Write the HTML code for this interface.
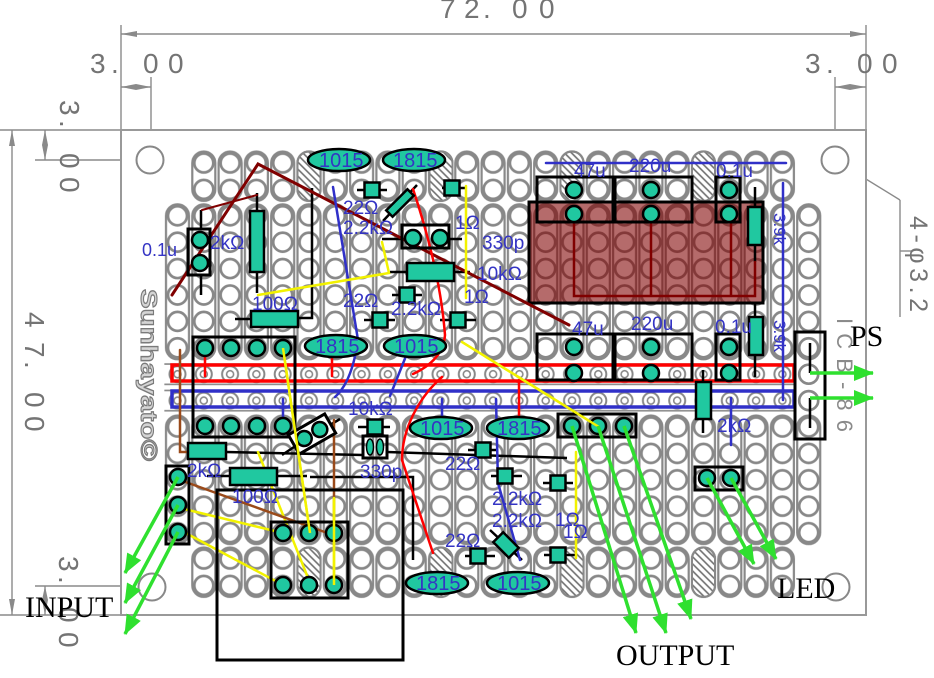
<!DOCTYPE html>
<html><head><meta charset="utf-8">
<style>
html,body{margin:0;padding:0;background:#fff;}
svg{display:block;}
text{font-family:"Liberation Sans",sans-serif;}
.b{fill:#3434c4;font-size:20px;}
.s{fill:#3434c4;font-size:19px;}
.dm{fill:#747474;font-size:28px;}
.t{fill:#20c8a0;stroke:#000;stroke-width:2.5;}
.k{stroke:#000;stroke-width:2.5;fill:none;}
.bx{fill:none;stroke:#000;stroke-width:3;}
.g{stroke:#8a8a8a;stroke-width:1.4;fill:none;}
.ga{stroke:#2fe02f;stroke-width:3.5;fill:none;marker-end:url(#ah);}
.serif{font-family:"Liberation Serif",serif;font-size:30px;fill:#000;}
</style></head><body>
<svg width="934" height="678" viewBox="0 0 934 678" xmlns="http://www.w3.org/2000/svg">
<defs>
<pattern id="pA" patternUnits="userSpaceOnUse" x="164.35" y="149.8" width="26.3" height="52.8">
 <rect x="1.65" y="1.7" width="23" height="49.4" rx="11.5" fill="none" stroke="#888" stroke-width="2.2"/>
 <circle cx="13.15" cy="13.2" r="9.5" fill="none" stroke="#888" stroke-width="2.7"/>
 <circle cx="13.15" cy="39.6" r="9.5" fill="none" stroke="#888" stroke-width="2.7"/>
</pattern>
<pattern id="pD" patternUnits="userSpaceOnUse" x="164.35" y="545.8" width="26.3" height="52.8">
 <rect x="1.65" y="1.7" width="23" height="49.4" rx="11.5" fill="none" stroke="#888" stroke-width="2.2"/>
 <circle cx="13.15" cy="13.2" r="9.5" fill="none" stroke="#888" stroke-width="2.7"/>
 <circle cx="13.15" cy="39.6" r="9.5" fill="none" stroke="#888" stroke-width="2.7"/>
</pattern>
<pattern id="pB" patternUnits="userSpaceOnUse" x="164.35" y="202.6" width="26.3" height="158.4">
 <rect x="1.65" y="1.7" width="23" height="155" rx="11.5" fill="none" stroke="#888" stroke-width="2.2"/>
 <circle cx="13.15" cy="13.2" r="9.5" fill="none" stroke="#888" stroke-width="2.7"/>
 <circle cx="13.15" cy="39.6" r="9.5" fill="none" stroke="#888" stroke-width="2.7"/>
 <circle cx="13.15" cy="66" r="9.5" fill="none" stroke="#888" stroke-width="2.7"/>
 <circle cx="13.15" cy="92.4" r="9.5" fill="none" stroke="#888" stroke-width="2.7"/>
 <circle cx="13.15" cy="118.8" r="9.5" fill="none" stroke="#888" stroke-width="2.7"/>
 <circle cx="13.15" cy="145.2" r="9.5" fill="none" stroke="#888" stroke-width="2.7"/>
</pattern>
<pattern id="pC" patternUnits="userSpaceOnUse" x="164.35" y="413.8" width="26.3" height="132">
 <rect x="1.65" y="1.7" width="23" height="128.6" rx="11.5" fill="none" stroke="#888" stroke-width="2.2"/>
 <circle cx="13.15" cy="13.2" r="9.5" fill="none" stroke="#888" stroke-width="2.7"/>
 <circle cx="13.15" cy="39.6" r="9.5" fill="none" stroke="#888" stroke-width="2.7"/>
 <circle cx="13.15" cy="66" r="9.5" fill="none" stroke="#888" stroke-width="2.7"/>
 <circle cx="13.15" cy="92.4" r="9.5" fill="none" stroke="#888" stroke-width="2.7"/>
 <circle cx="13.15" cy="118.8" r="9.5" fill="none" stroke="#888" stroke-width="2.7"/>
</pattern>
<pattern id="pBus" patternUnits="userSpaceOnUse" x="164.35" y="361" width="26.3" height="26.4">
 <circle cx="13.15" cy="13.2" r="8" fill="none" stroke="#888" stroke-width="2"/>
 <circle cx="13.15" cy="13.2" r="3.5" fill="none" stroke="#888" stroke-width="1.6"/>
 <line x1="0" y1="3" x2="26.3" y2="3" stroke="#888" stroke-width="1.6"/>
 <line x1="0" y1="23.4" x2="26.3" y2="23.4" stroke="#888" stroke-width="1.6"/>
</pattern>
<pattern id="hat" patternUnits="userSpaceOnUse" width="5" height="5" patternTransform="rotate(-45)">
 <line x1="1" y1="0" x2="1" y2="5" stroke="#6e6e6e" stroke-width="1.6"/>
</pattern>
<marker id="ah" viewBox="0 0 20 16" refX="19" refY="8" markerWidth="20" markerHeight="16" orient="auto" markerUnits="userSpaceOnUse">
 <path d="M0,0 L20,8 L0,16 z" fill="#2fe02f"/>
</marker>
</defs>

<!-- dimension lines -->
<g class="g">
 <line x1="121" y1="25" x2="121" y2="615"/>
 <line x1="866" y1="25" x2="866" y2="615"/>
 <line x1="121" y1="34" x2="866" y2="34"/>
 <line x1="151" y1="77" x2="151" y2="147"/>
 <line x1="835" y1="77" x2="835" y2="146"/>
 <line x1="121" y1="87" x2="151" y2="87"/>
 <line x1="835" y1="87" x2="866" y2="87"/>
 <line x1="0" y1="130" x2="866" y2="130"/>
 <line x1="35" y1="160" x2="137" y2="160"/>
 <line x1="45" y1="130" x2="45" y2="160"/>
 <line x1="12" y1="130" x2="12" y2="615"/>
 <line x1="0" y1="615" x2="866" y2="615"/>
 <line x1="35" y1="586" x2="139" y2="586"/>
 <line x1="45" y1="586" x2="45" y2="615"/>
 <line x1="848" y1="168" x2="900" y2="200"/>
 <line x1="900" y1="200" x2="900" y2="317"/>
 <line x1="900" y1="251" x2="912" y2="251"/>
</g>
<g fill="#8a8a8a">
 <polygon points="121,34 137,31 137,37"/>
 <polygon points="866,34 850,31 850,37"/>
 <polygon points="121,87 136,84 151,87 136,90"/>
 <polygon points="835,87 850,84 866,87 850,90"/>
 <polygon points="45,130 42,145 45,160 48,145"/>
 <polygon points="45,586 42,600 45,615 48,600"/>
 <polygon points="12,130 9,146 15,146"/>
 <polygon points="12,615 9,599 15,599"/>
 <polygon points="848,168 861,172 858,177"/>
</g>
<text class="dm"><tspan x="440" y="18">7</tspan><tspan x="464" y="18">2</tspan><tspan x="483" y="18">.</tspan><tspan x="512" y="18">0</tspan><tspan x="539" y="18">0</tspan></text>
<text class="dm"><tspan x="90" y="73">3</tspan><tspan x="111" y="73">.</tspan><tspan x="143" y="73">0</tspan><tspan x="168" y="73">0</tspan></text>
<text class="dm"><tspan x="805" y="73">3</tspan><tspan x="826" y="73">.</tspan><tspan x="857" y="73">0</tspan><tspan x="882" y="73">0</tspan></text>
<text class="dm" transform="translate(60,0) rotate(90)"><tspan x="100" y="0">3</tspan><tspan x="120" y="0">.</tspan><tspan x="153" y="0">0</tspan><tspan x="177" y="0">0</tspan></text>
<text class="dm" transform="translate(25,0) rotate(90)"><tspan x="312" y="0">4</tspan><tspan x="342" y="0">7</tspan><tspan x="361" y="0">.</tspan><tspan x="392" y="0">0</tspan><tspan x="416" y="0">0</tspan></text>
<text class="dm" transform="translate(59,0) rotate(90)"><tspan x="556" y="0">3</tspan><tspan x="576" y="0">.</tspan><tspan x="607" y="0">0</tspan><tspan x="632" y="0">0</tspan></text>
<text transform="translate(910,0) rotate(90)" x="216" y="0" font-size="25" fill="#747474" textLength="96" lengthAdjust="spacing">4-φ3.2</text>

<!-- board -->
<rect x="121" y="130" width="745" height="485" fill="#fff" stroke="#999" stroke-width="2"/>
<circle cx="150" cy="160" r="13.5" fill="#fff" stroke="#888" stroke-width="2"/>
<circle cx="835" cy="160" r="13.5" fill="#fff" stroke="#888" stroke-width="2"/>
<circle cx="152" cy="587" r="13.5" fill="#fff" stroke="#888" stroke-width="2"/>
<circle cx="836" cy="587" r="13.5" fill="#fff" stroke="#888" stroke-width="2"/>

<!-- hole grid -->
<rect x="190.65" y="149.8" width="604.9" height="52.8" fill="url(#pA)"/>
<rect x="164.35" y="202.6" width="657.5" height="158.4" fill="url(#pB)"/>
<rect x="164.35" y="361" width="631.2" height="52.8" fill="url(#pBus)"/>
<circle cx="808.7" cy="374.2" r="9.5" fill="none" stroke="#888" stroke-width="2.7"/>
<circle cx="808.7" cy="400.6" r="9.5" fill="none" stroke="#888" stroke-width="2.7"/>
<rect x="164.35" y="413.8" width="657.5" height="132" fill="url(#pC)"/>
<rect x="190.65" y="545.8" width="604.9" height="52.8" fill="url(#pD)"/>

<!-- hatched cells -->
<g stroke="#888" stroke-width="2">
 <rect x="297.5" y="151.5" width="23" height="49.4" rx="11.5" fill="#fff"/>
 <rect x="297.5" y="151.5" width="23" height="49.4" rx="11.5" fill="url(#hat)"/>
 <rect x="429.5" y="151.5" width="23" height="49.4" rx="11.5" fill="#fff"/>
 <rect x="429.5" y="151.5" width="23" height="49.4" rx="11.5" fill="url(#hat)"/>
 <rect x="560.5" y="151.5" width="23" height="49.4" rx="11.5" fill="#fff"/>
 <rect x="560.5" y="151.5" width="23" height="49.4" rx="11.5" fill="url(#hat)"/>
 <rect x="692" y="151.5" width="23" height="49.4" rx="11.5" fill="#fff"/>
 <rect x="692" y="151.5" width="23" height="49.4" rx="11.5" fill="url(#hat)"/>
 <rect x="297.5" y="547.5" width="23" height="49.4" rx="11.5" fill="#fff"/>
 <rect x="297.5" y="547.5" width="23" height="49.4" rx="11.5" fill="url(#hat)"/>
 <rect x="429.5" y="547.5" width="23" height="49.4" rx="11.5" fill="#fff"/>
 <rect x="429.5" y="547.5" width="23" height="49.4" rx="11.5" fill="url(#hat)"/>
 <rect x="560.5" y="547.5" width="23" height="49.4" rx="11.5" fill="#fff"/>
 <rect x="560.5" y="547.5" width="23" height="49.4" rx="11.5" fill="url(#hat)"/>
 <rect x="692" y="547.5" width="23" height="49.4" rx="11.5" fill="#fff"/>
 <rect x="692" y="547.5" width="23" height="49.4" rx="11.5" fill="url(#hat)"/>
</g>

<!-- board texts -->
<text transform="translate(141,0) rotate(90)" x="289" y="0" font-size="23" font-weight="bold" fill="#d4d4d4" stroke="#7a7a7a" stroke-width="1.1" textLength="172" lengthAdjust="spacingAndGlyphs">Sunhayato©</text>
<text transform="translate(837,0) rotate(90)" x="318" y="0" font-size="22" fill="#8a8a8a" textLength="114" lengthAdjust="spacing">ICB-86</text>

<!-- hatched big rect -->
<rect x="529" y="202" width="234" height="101" fill="#800000" fill-opacity="0.58" stroke="#000" stroke-width="3"/>

<!-- buses -->
<rect x="172" y="365" width="622" height="16" fill="none" stroke="#f00" stroke-width="3.5"/>
<rect x="172" y="391" width="622" height="16" fill="none" stroke="#3030c8" stroke-width="3.5"/>

<!-- black leads / wires -->
<path class="k" d="M201,210V229M201,275V295M257,193V211M257,272V293M312,188V318H298M235,319H251M357,190H387M442,188H467M383,221L417,185M382,239H402M449,239H462M390,272H407M454,272H470M392,295H422M364,320H395M440,320H476M755,187V207M755,245V262M755,303V317M755,355V377M703,370V382M703,419V433M810,343V373M810,398V428M226,452L363,455M387,452L567,458M207,476H230M277,476H307M310,477H413V560M358,427H390M375,433V436M282,455L294,447M330,425L340,419M468,450H497M491,476H522M543,483H573M465,556H495M544,555H576M490,530L522,560"/>

<!-- colored wires -->
<g fill="none" stroke-linecap="round">
 <path d="M172,295L258,164L569,325" stroke="#800000" stroke-width="3"/>
 <path d="M202,210L257,195" stroke="#800000" stroke-width="2"/>
 <path d="M574,214V296H755V262M651,214V296M731,214V296" stroke="#800000" stroke-width="2.5"/>
 <path d="M413,189Q440,270 445,335Q443,360 413,374" stroke="#f00" stroke-width="2.5"/>
 <path d="M442,377C418,398 402,430 402,460L433,553" stroke="#f00" stroke-width="2.5"/>
 <path d="M205,348V376M332,346V376M519,380V427" stroke="#f00" stroke-width="2.5"/>
 <path d="M333,187L358,340Q352,382 335,397" stroke="#3030c8" stroke-width="2.5"/>
 <path d="M410,346L390,396M442,399V427M283,399V427M496,399L498,483L520,560M546,163H786M783,183V400M731,398V445" stroke="#3030c8" stroke-width="2.5"/>
 <path d="M258,295L389,273L382,242M466,186V298M283,348L310,533M258,452L310,583M180,508L283,533M180,530L283,585M462,342L599,427M576,452V558" stroke="#f2f200" stroke-width="2.5"/>
 <path d="M180,350V452H188M334,420V535M180,480L333,535" stroke="#9a4a1a" stroke-width="2.5"/>
 <path d="M334,498V585" stroke="#f2f200" stroke-width="2.5"/>
</g>

<!-- boxes -->
<g class="bx">
 <rect x="188" y="229" width="22" height="46"/>
 <rect x="402" y="225" width="47" height="23"/>
 <rect x="537" y="177" width="76" height="45"/>
 <rect x="615" y="177" width="77" height="45"/>
 <rect x="716" y="177" width="24" height="45"/>
 <rect x="537" y="334" width="76" height="46"/>
 <rect x="615" y="334" width="77" height="46"/>
 <rect x="716" y="334" width="24" height="46"/>
 <rect x="193" y="337" width="102" height="100"/>
 <rect x="166" y="466" width="23" height="78"/>
 <rect x="271" y="522" width="77" height="76"/>
 <rect x="217" y="490" width="186" height="170"/>
 <rect x="363" y="436" width="24" height="22"/>
 <rect x="558" y="414" width="78" height="23"/>
 <rect x="695" y="467" width="48" height="23"/>
 <rect x="795" y="332" width="30" height="107"/>
</g>

<!-- resistors -->
<g class="t">
 <rect x="250" y="211" width="14" height="61"/>
 <rect x="251" y="311" width="47" height="16"/>
 <rect x="407" y="263" width="47" height="18"/>
 <rect x="748" y="207" width="14" height="38"/>
 <rect x="749" y="317" width="14" height="38"/>
 <rect x="696" y="382" width="15" height="37"/>
 <rect x="188" y="443" width="38" height="16"/>
 <rect x="230" y="468" width="47" height="17"/>
 <!-- chips -->
 <rect x="364.5" y="182.5" width="15" height="15"/>
 <rect x="444.5" y="180.5" width="15" height="15"/>
 <rect x="399.5" y="287.5" width="15" height="15"/>
 <rect x="372.5" y="312.5" width="15" height="15"/>
 <rect x="450.5" y="312.5" width="15" height="15"/>
 <rect x="367.5" y="419.5" width="15" height="15"/>
 <rect x="475.5" y="442.5" width="15" height="15"/>
 <rect x="497.5" y="468.5" width="15" height="15"/>
 <rect x="550.5" y="475.5" width="15" height="15"/>
 <rect x="470.5" y="548.5" width="15" height="15"/>
 <rect x="550.5" y="547.5" width="15" height="15"/>
 <rect x="-15" y="-4.5" width="30" height="9" transform="translate(400,203) rotate(-45)"/>
 <rect x="-11" y="-7" width="22" height="14" transform="translate(506,545) rotate(45)"/>
 <!-- ellipses -->
 <ellipse cx="339" cy="160" rx="31" ry="11"/>
 <ellipse cx="414" cy="160" rx="31" ry="11"/>
 <ellipse cx="336" cy="346" rx="31" ry="11"/>
 <ellipse cx="415" cy="346" rx="31" ry="11"/>
 <ellipse cx="441" cy="428" rx="31" ry="11"/>
 <ellipse cx="518" cy="428" rx="31" ry="11"/>
 <ellipse cx="437" cy="583" rx="31" ry="11"/>
 <ellipse cx="518" cy="583" rx="31" ry="11"/>
 <!-- pins -->
 <circle cx="200" cy="240" r="8"/><circle cx="200" cy="263" r="8"/>
 <circle cx="413" cy="238" r="8"/><circle cx="440" cy="238" r="8"/>
 <circle cx="574" cy="190" r="8"/><circle cx="574" cy="214" r="8"/>
 <circle cx="651" cy="190" r="8"/><circle cx="651" cy="214" r="8"/>
 <circle cx="729" cy="190" r="8"/><circle cx="729" cy="214" r="8"/>
 <circle cx="574" cy="347" r="8"/><circle cx="574" cy="373" r="8"/>
 <circle cx="651" cy="347" r="8"/><circle cx="651" cy="373" r="8"/>
 <circle cx="729" cy="347" r="8"/><circle cx="729" cy="373" r="8"/>
 <circle cx="205" cy="348" r="8"/><circle cx="231" cy="348" r="8"/><circle cx="257" cy="348" r="8"/><circle cx="283" cy="348" r="8"/>
 <circle cx="205" cy="426" r="8"/><circle cx="231" cy="426" r="8"/><circle cx="257" cy="426" r="8"/><circle cx="283" cy="426" r="8"/>
 <circle cx="178" cy="477" r="8"/><circle cx="178" cy="505" r="8"/><circle cx="178" cy="532" r="8"/>
 <circle cx="283" cy="533" r="8"/><circle cx="309" cy="533" r="8"/><circle cx="334" cy="533" r="8"/>
 <circle cx="283" cy="585" r="8"/><circle cx="309" cy="585" r="8"/><circle cx="334" cy="585" r="8"/>
 <circle cx="572" cy="426" r="8"/><circle cx="598" cy="426" r="8"/><circle cx="624" cy="426" r="8"/>
 <circle cx="707" cy="478" r="8"/><circle cx="731" cy="478" r="8"/>
</g>
<g transform="translate(312,434) rotate(-30)">
 <rect x="-21" y="-11" width="42" height="22" fill="#fff" stroke="#000" stroke-width="3"/>
 <circle cx="-9" cy="0" r="7.5" class="t"/><circle cx="9" cy="0" r="7.5" class="t"/>
</g>
<ellipse cx="370" cy="447" rx="3.5" ry="8" fill="#20c8a0" stroke="#000" stroke-width="1.5"/>
<ellipse cx="380" cy="447" rx="3.5" ry="8" fill="#20c8a0" stroke="#000" stroke-width="1.5"/>

<!-- wires drawn over some parts -->
<path d="M462,342L599,427M334,498V585M283,348L310,533" stroke="#f2f200" stroke-width="2.5" fill="none"/>

<!-- blue labels -->
<g class="b">
 <text x="319" y="167">1015</text><text x="393" y="167">1815</text>
 <text x="315" y="353">1815</text><text x="394" y="353">1015</text>
 <text x="420" y="435">1015</text><text x="497" y="435">1815</text>
 <text x="416" y="590">1815</text><text x="497" y="590">1015</text>
</g>
<g class="s">
 <text x="142" y="256" font-size="18">0.1u</text>
 <text x="210" y="249">2kΩ</text>
 <text x="252" y="310">100Ω</text>
 <text x="343" y="214">22Ω</text>
 <text x="343" y="234">2.2kΩ</text>
 <text x="343" y="307">22Ω</text>
 <text x="391" y="315">2.2kΩ</text>
 <text x="455" y="229">1Ω</text>
 <text x="482" y="249">330p</text>
 <text x="477" y="280">10kΩ</text>
 <text x="464" y="303">1Ω</text>
 <text x="574" y="177">47u</text>
 <text x="629" y="172">220u</text>
 <text x="716" y="177">0.1u</text>
 <text x="572" y="335">47u</text>
 <text x="631" y="330">220u</text>
 <text x="715" y="333">0.1u</text>
 <text x="717" y="432">2kΩ</text>
 <text x="348" y="415">10kΩ</text>
 <text x="187" y="477">2kΩ</text>
 <text x="232" y="503">100Ω</text>
 <text x="360" y="478">330p</text>
 <text x="445" y="470">22Ω</text>
 <text x="492" y="505">2.2kΩ</text>
 <text x="492" y="527">2.2kΩ</text>
 <text x="555" y="526">1Ω</text>
 <text x="563" y="538">1Ω</text>
 <text x="445" y="547">22Ω</text>
 <text transform="translate(774,0) rotate(90)" x="213" y="0" font-size="17">3.9k</text>
 <text transform="translate(774,0) rotate(90)" x="320" y="0" font-size="17">3.9k</text>
</g>

<!-- green arrows -->
<g class="ga">
 <line x1="178" y1="477" x2="125" y2="573"/>
 <line x1="178" y1="505" x2="125" y2="603"/>
 <line x1="178" y1="532" x2="125" y2="634"/>
 <line x1="572" y1="426" x2="636" y2="633"/>
 <line x1="598" y1="426" x2="666" y2="633"/>
 <line x1="624" y1="426" x2="691" y2="619"/>
 <line x1="810" y1="373" x2="873" y2="373"/>
 <line x1="810" y1="398" x2="873" y2="398"/>
 <line x1="707" y1="478" x2="754" y2="564"/>
 <line x1="731" y1="478" x2="776" y2="559"/>
</g>

<!-- black labels -->
<text class="serif" x="850" y="346">PS</text>
<text class="serif" x="777" y="598">LED</text>
<text class="serif" x="25" y="617">INPUT</text>
<text class="serif" x="616" y="665">OUTPUT</text>
</svg>
</body></html>
